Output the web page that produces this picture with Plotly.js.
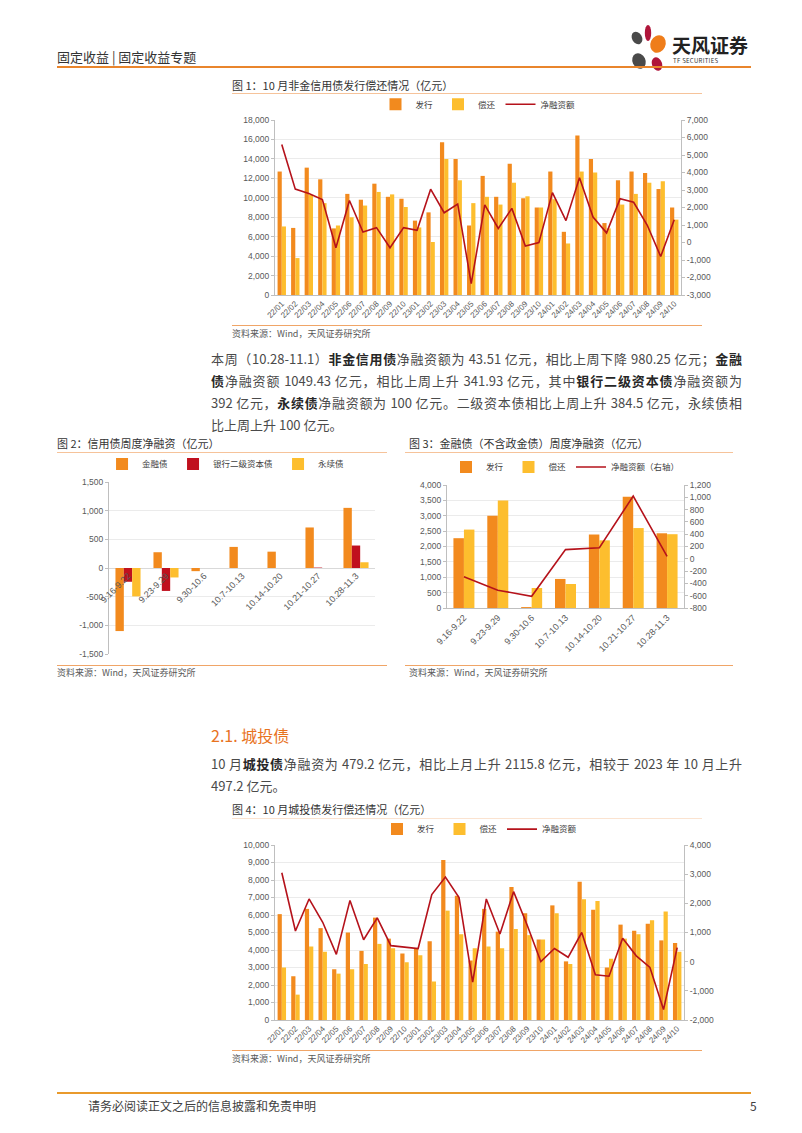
<!DOCTYPE html>
<html><head><meta charset="utf-8">
<script src="https://cdn.plot.ly/plotly-3.0.1.min.js"></script>
<style>
body{margin:0;width:802px;height:1133px;position:relative;background:#fff;font-family:"Noto Sans CJK SC","Noto Sans",sans-serif;color:#404040;overflow:hidden}
.t{position:absolute;white-space:nowrap}
.rule{position:absolute;height:0}
.para{position:absolute;left:211px;width:531px;font-size:13px;line-height:22px;white-space:nowrap;text-align:justify;text-align-last:justify;color:#4a4a4a}
.para b{color:#262626}
.ftitle{font-size:11px;line-height:14px;color:#333}
.src{font-size:9px;line-height:12px;color:#595959}
.chart{position:absolute}
</style>
</head><body>

<!-- header -->
<div class="t" style="left:57px;top:49px;font-size:13px;line-height:16px;color:#333">固定收益 | 固定收益专题</div>
<svg class="t" style="left:627px;top:24px" width="46" height="48" viewBox="0 0 46 48">
  <ellipse cx="10" cy="14" rx="5" ry="6.5" fill="#4a4a4a" transform="rotate(-30 10 14)"/>
  <ellipse cx="21" cy="9" rx="3.2" ry="8" fill="#b0153a"/>
  <ellipse cx="31" cy="20" rx="7.5" ry="9" fill="#ef7d1a" transform="rotate(25 31 20)"/>
  <ellipse cx="12" cy="37" rx="6.5" ry="8" fill="#4a4a4a" transform="rotate(-25 12 37)"/>
  <ellipse cx="30" cy="40" rx="5" ry="7" fill="#b0153a" transform="rotate(-20 30 40)"/>
</svg>
<div class="t" style="left:672px;top:33px;font-size:19px;line-height:23px;font-weight:bold;color:#222">天风证券</div>
<div class="t" style="left:673px;top:57px;font-size:6px;line-height:8px;color:#333;letter-spacing:0.3px">TF SECURITIES</div>
<div class="rule" style="left:57px;top:66px;width:694px;border-top:2px solid #E9852C"></div>

<!-- figure 1 -->
<div class="t ftitle" style="left:232px;top:78px">图 1：10 月非金信用债发行偿还情况（亿元）</div>
<div class="rule" style="left:232px;top:93px;width:470px;border-top:1px solid #F6C39A"></div>
<div id="c1" class="chart" style="left:232px;top:96px;width:485px;height:232px"></div>
<div class="rule" style="left:232px;top:325px;width:470px;border-top:1px solid #F0A567"></div>
<div class="t src" style="left:232px;top:328px">资料来源：Wind，天风证券研究所</div>

<!-- paragraph 1 -->
<div class="para" style="top:348px">本周（10.28-11.1）<b>非金信用债</b>净融资额为 43.51 亿元，相比上周下降 980.25 亿元；<b>金融</b></div>
<div class="para" style="top:370px"><b>债</b>净融资额 1049.43 亿元，相比上周上升 341.93 亿元，其中<b>银行二级资本债</b>净融资额为</div>
<div class="para" style="top:392px">392 亿元，<b>永续债</b>净融资额为 100 亿元。二级资本债相比上周上升 384.5 亿元，永续债相</div>
<div class="para" style="top:414px;text-align:left;text-align-last:left">比上周上升 100 亿元。</div>

<!-- figure 2 -->
<div class="t ftitle" style="left:57px;top:436px">图 2：信用债周度净融资（亿元）</div>
<div class="rule" style="left:57px;top:452px;width:330px;border-top:1px solid #F6C39A"></div>
<div id="c2" class="chart" style="left:50px;top:455px;width:340px;height:208px"></div>
<div class="rule" style="left:57px;top:665px;width:330px;border-top:1px solid #F0A567"></div>
<div class="t src" style="left:57px;top:667px">资料来源：Wind，天风证券研究所</div>

<!-- figure 3 -->
<div class="t ftitle" style="left:409px;top:436px">图 3：金融债（不含政金债）周度净融资（亿元）</div>
<div class="rule" style="left:405px;top:452px;width:328px;border-top:1px solid #F6C39A"></div>
<div id="c3" class="chart" style="left:405px;top:455px;width:330px;height:208px"></div>
<div class="rule" style="left:405px;top:665px;width:328px;border-top:1px solid #F0A567"></div>
<div class="t src" style="left:409px;top:667px">资料来源：Wind，天风证券研究所</div>

<!-- section 2.1 -->
<div class="t" style="left:211px;top:724px;font-size:16px;line-height:22px;color:#E8731F">2.1. 城投债</div>
<div class="para" style="top:753px">10 月<b>城投债</b>净融资为 479.2 亿元，相比上月上升 2115.8 亿元，相较于 2023 年 10 月上升</div>
<div class="para" style="top:775px;text-align:left;text-align-last:left">497.2 亿元。</div>

<!-- figure 4 -->
<div class="t ftitle" style="left:232px;top:802px">图 4：10 月城投债发行偿还情况（亿元）</div>
<div class="rule" style="left:232px;top:818px;width:470px;border-top:1px solid #FBE3D0"></div>
<div id="c4" class="chart" style="left:232px;top:822px;width:485px;height:226px"></div>
<div class="rule" style="left:232px;top:1050px;width:470px;border-top:1px solid #F0A567"></div>
<div class="t src" style="left:232px;top:1053px">资料来源：Wind，天风证券研究所</div>

<!-- footer -->
<div class="rule" style="left:57px;top:1092px;width:694px;border-top:2px solid #E99A2C"></div>
<div class="t" style="left:88px;top:1098px;font-size:12px;line-height:16px;color:#404040">请务必阅读正文之后的信息披露和免责申明</div>
<div class="t" style="left:750px;top:1098px;font-size:12px;line-height:16px;color:#404040">5</div>

<script>
// ---------------- data ----------------
const months = ['22/01','22/02','22/03','22/04','22/05','22/06','22/07','22/08','22/09','22/10',
                '23/01','23/02','23/03','23/04','23/05','23/06','23/07','23/08','23/09','23/10',
                '24/01','24/02','24/03','24/04','24/05','24/06','24/07','24/08','24/09','24/10'];
const nonfinIssue = [12700,6900,13100,11900,6850,10400,9800,11450,10100,9900,
                     7650,8500,15700,14000,7150,12250,10100,13500,9950,9000,
                     12700,6500,16400,14000,7400,11800,12700,12550,10900,9000];
const nonfinRepay = [7050,3800,10300,9450,7150,8000,9200,10600,10350,9050,
                     6950,5450,14000,11800,9450,10100,9300,11550,10150,9000,
                     9850,5300,12700,12600,6850,9300,10400,11550,11700,7750];
const nonfinNet   = [5600,3050,2800,2450,-300,2400,600,850,-300,850,
                     700,3050,1700,2200,-2350,2150,800,1950,-200,0,
                     2850,1250,3700,1450,550,2500,2300,1000,-800,1300];

const weeks = ['9.16-9.22','9.23-9.29','9.30-10.6','10.7-10.13','10.14-10.20','10.21-10.27','10.28-11.3'];
const finBondNet = [-1100,275,-55,368,285,707,1049];
const bankT2Net  = [-240,-400,0,0,0,7.5,392];
const perpNet    = [-495,-165,0,0,0,0,100];

const finIssue = [2270,3000,30,945,2390,3620,2430];
const finRepay = [2550,3500,650,780,2200,2600,2400];
const finNet   = [-290,-510,-610,150,180,1020,40];

const ctIssue = [6050,2500,6350,5250,2900,5000,3950,5850,4650,3800,
                 4100,4500,9150,7100,3400,6350,5050,7600,6100,4600,
                 6550,3350,7900,6300,3000,5450,5100,5500,4550,4400];
const ctRepay = [3000,1450,4200,3900,2650,2900,3200,4350,4100,3300,
                 3700,2200,6250,4900,4100,4200,4100,5200,4850,4600,
                 6100,3200,6900,6800,3500,4650,4900,5700,6200,3900];
const ctNet   = [3050,1050,2150,1350,250,2100,750,1500,550,500,
                 450,2300,2900,2200,-700,2150,950,2400,1250,0,
                 450,150,1000,-450,-500,800,200,-200,-1640,480];

// tick labels
const c1LeftVals = [0,2000,4000,6000,8000,10000,12000,14000,16000,18000];
const c1LeftText = ['0','2,000','4,000','6,000','8,000','10,000','12,000','14,000','16,000','18,000'];
const c1RightVals = [-3000,-2000,-1000,0,1000,2000,3000,4000,5000,6000,7000];
const c1RightText = ['-3,000','-2,000','-1,000','0','1,000','2,000','3,000','4,000','5,000','6,000','7,000'];
const c2Vals = [-1500,-1000,-500,0,500,1000,1500];
const c2Text = ['-1,500','-1,000','-500','0','500','1,000','1,500'];
const c3LeftVals = [0,500,1000,1500,2000,2500,3000,3500,4000];
const c3LeftText = ['0','500','1,000','1,500','2,000','2,500','3,000','3,500','4,000'];
const c3RightVals = [-800,-600,-400,-200,0,200,400,600,800,1000,1200];
const c3RightText = ['-800','-600','-400','-200','0','200','400','600','800','1,000','1,200'];
const c4LeftVals = [0,1000,2000,3000,4000,5000,6000,7000,8000,9000,10000];
const c4LeftText = ['0','1,000','2,000','3,000','4,000','5,000','6,000','7,000','8,000','9,000','10,000'];
const c4RightVals = [-2000,-1000,0,1000,2000,3000,4000];
const c4RightText = ['-2,000','-1,000','0','1,000','2,000','3,000','4,000'];

// ---------------- styles ----------------
const ORANGE = '#F28A1E', YELLOW = '#FDBE2E', RED = '#B5121B', DARKRED = '#C0101E';
const FONT = {family:'"Liberation Sans", "Noto Sans CJK SC", sans-serif', size:8.5, color:'#595959'};
const AXC = '#BFBFBF', GRID = '#EBEBEB';
const cfg = {staticPlot:true, displayModeBar:false};

function baseLayout(m){
  m.autoexpand = false;
  return {
    margin:m, paper_bgcolor:'rgba(0,0,0,0)', plot_bgcolor:'rgba(0,0,0,0)',
    font:FONT, barmode:'group', bargroupgap:0, showlegend:true,
    legend:{orientation:'h', x:0.5, xanchor:'center', yanchor:'middle',
            font:{family:FONT.family, size:8.5, color:'#404040'}, itemwidth:30,
            bgcolor:'rgba(0,0,0,0)'}
  };
}
function yax(vals, text, range, extra){
  return Object.assign({range:range, tickvals:vals, ticktext:text, showgrid:true, gridcolor:GRID,
    gridwidth:1, zeroline:false, showline:true, linecolor:AXC, linewidth:1, ticks:'outside',
    ticklen:3, tickcolor:AXC, tickfont:{size:8.5, color:'#595959'}, fixedrange:true, automargin:false}, extra||{});
}
function xax(extra){
  return Object.assign({type:'category', tickangle:-45, showline:true, linecolor:AXC, linewidth:1,
    ticks:'', showgrid:false, zeroline:false, automargin:false, tickfont:{size:8, color:'#595959'}}, extra||{});
}

// ---------------- chart 1 ----------------
(function(){
  const L = baseLayout({l:43, r:36, t:24, b:33});
  L.bargap = 0.38;
  L.legend.y = 1.09;
  L.xaxis = xax();
  L.yaxis = yax(c1LeftVals, c1LeftText, [0,18000]);
  L.yaxis2 = yax(c1RightVals, c1RightText, [-3000,7000], {overlaying:'y', side:'right', showgrid:false});
  Plotly.newPlot('c1', [
    {type:'bar', name:'发行', x:months, y:nonfinIssue, marker:{color:ORANGE}},
    {type:'bar', name:'偿还', x:months, y:nonfinRepay, marker:{color:YELLOW}},
    {type:'scatter', mode:'lines', name:'净融资额', x:months, y:nonfinNet, yaxis:'y2',
     line:{color:RED, width:1.6}}
  ], L, cfg);
})();

// ---------------- chart 2 ----------------
(function(){
  const L = baseLayout({l:59, r:15, t:27, b:9});
  L.bargap = 0.34;
  L.legend.y = 1.105; L.legend.x = 0.44;
  L.xaxis = xax({anchor:'free', position:0.5, showline:false, tickfont:{size:9, color:'#595959'}});
  L.yaxis = yax(c2Vals, c2Text, [-1500,1500], {zeroline:true, zerolinecolor:'#D9D9D9', zerolinewidth:1});
  Plotly.newPlot('c2', [
    {type:'bar', name:'金融债', x:weeks, y:finBondNet, marker:{color:ORANGE}},
    {type:'bar', name:'银行二级资本债', x:weeks, y:bankT2Net, marker:{color:DARKRED}},
    {type:'bar', name:'永续债', x:weeks, y:perpNet, marker:{color:YELLOW}}
  ], L, cfg);
})();

// ---------------- chart 3 ----------------
(function(){
  const L = baseLayout({l:42, r:51, t:30, b:55});
  L.bargap = 0.38;
  L.legend.y = 1.146;
  L.xaxis = xax({tickfont:{size:9, color:'#595959'}});
  L.yaxis = yax(c3LeftVals, c3LeftText, [0,4000]);
  L.yaxis2 = yax(c3RightVals, c3RightText, [-800,1200], {overlaying:'y', side:'right', showgrid:false});
  Plotly.newPlot('c3', [
    {type:'bar', name:'发行', x:weeks, y:finIssue, marker:{color:ORANGE}},
    {type:'bar', name:'偿还', x:weeks, y:finRepay, marker:{color:YELLOW}},
    {type:'scatter', mode:'lines', name:'净融资额（右轴）', x:weeks, y:finNet, yaxis:'y2',
     line:{color:RED, width:1.6}}
  ], L, cfg);
})();

// ---------------- chart 4 ----------------
(function(){
  const L = baseLayout({l:43, r:33, t:23, b:28});
  L.bargap = 0.38;
  L.legend.y = 1.091;
  L.xaxis = xax();
  L.yaxis = yax(c4LeftVals, c4LeftText, [0,10000]);
  L.yaxis2 = yax(c4RightVals, c4RightText, [-2000,4000], {overlaying:'y', side:'right', showgrid:false});
  Plotly.newPlot('c4', [
    {type:'bar', name:'发行', x:months, y:ctIssue, marker:{color:ORANGE}},
    {type:'bar', name:'偿还', x:months, y:ctRepay, marker:{color:YELLOW}},
    {type:'scatter', mode:'lines', name:'净融资额', x:months, y:ctNet, yaxis:'y2',
     line:{color:RED, width:1.6}}
  ], L, cfg);
})();
</script>
</body></html>
